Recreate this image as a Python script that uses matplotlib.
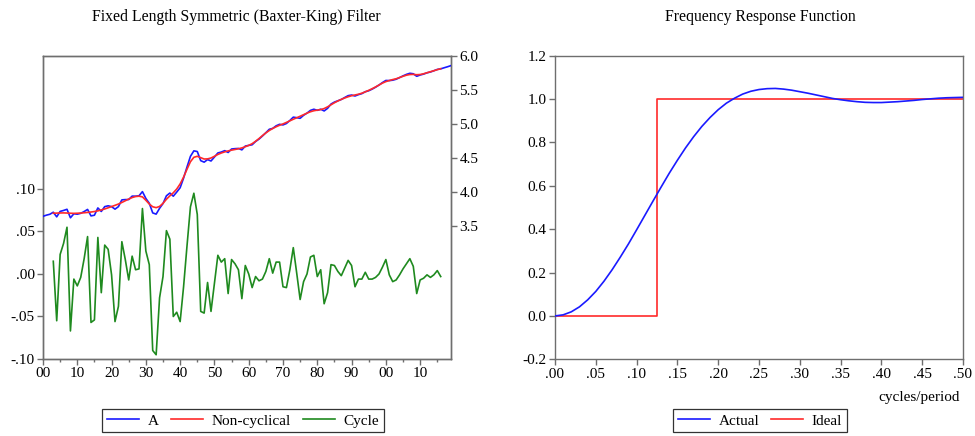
import numpy as np
import matplotlib
matplotlib.use("Agg")
import matplotlib.pyplot as plt
from matplotlib.ticker import FixedLocator, MultipleLocator

plt.rcParams['font.family'] = ['Liberation Serif', 'DejaVu Serif']

# ---------------- data ----------------
years = np.arange(1900, 2020)
cycle_years = np.arange(1903, 2017)

series_a = [
    3.645, 3.662, 3.675, 3.705, 3.637, 3.717, 3.731, 3.748, 3.623, 3.682,
    3.676, 3.689, 3.715, 3.746, 3.651, 3.661, 3.768, 3.716, 3.787, 3.799,
    3.787, 3.750, 3.787, 3.886, 3.890, 3.891, 3.941, 3.940, 3.946, 4.007,
    3.907, 3.836, 3.695, 3.677, 3.762, 3.832, 3.946, 3.986, 3.940, 4.000,
    4.064, 4.205, 4.368, 4.524, 4.605, 4.595, 4.461, 4.439, 4.477, 4.456,
    4.514, 4.574, 4.587, 4.608, 4.581, 4.632, 4.637, 4.640, 4.619, 4.675,
    4.685, 4.694, 4.742, 4.777, 4.822, 4.871, 4.921, 4.934, 4.972, 4.994,
    4.985, 5.006, 5.050, 5.099, 5.091, 5.082, 5.126, 5.158, 5.198, 5.215,
    5.199, 5.215, 5.190, 5.228, 5.291, 5.320, 5.339, 5.358, 5.387, 5.414,
    5.423, 5.409, 5.429, 5.444, 5.472, 5.486, 5.510, 5.538, 5.570, 5.606,
    5.637, 5.635, 5.641, 5.655, 5.679, 5.704, 5.726, 5.742, 5.735, 5.698,
    5.717, 5.730, 5.749, 5.761, 5.779, 5.799, 5.807, 5.823, 5.838, 5.855,
]

non_cyclical = [
    3.690, 3.692, 3.694, 3.695, 3.693, 3.690, 3.688, 3.690, 3.693, 3.697,
    3.702, 3.708, 3.715, 3.725, 3.738, 3.753, 3.770, 3.788, 3.806, 3.825,
    3.848, 3.873, 3.898, 3.920, 3.935, 3.940, 3.930, 3.880, 3.825, 3.785,
    3.772, 3.790, 3.835, 3.895, 3.945, 3.990, 4.045, 4.120, 4.220, 4.335,
    4.445, 4.510, 4.525, 4.505, 4.485, 4.487, 4.500, 4.525, 4.552, 4.573,
    4.590, 4.604, 4.615, 4.625, 4.635, 4.648, 4.665, 4.685, 4.710, 4.745,
    4.785, 4.828, 4.868, 4.903, 4.933, 4.958, 4.980, 5.000, 5.022, 5.045,
    5.068, 5.090, 5.112, 5.135, 5.158, 5.178, 5.193, 5.202, 5.210, 5.225,
    5.250, 5.280, 5.310, 5.336, 5.360, 5.380, 5.398, 5.413, 5.424, 5.435,
    5.450, 5.470, 5.492, 5.516, 5.542, 5.570, 5.598, 5.620, 5.636, 5.650,
    5.662, 5.680, 5.698, 5.714, 5.724, 5.726, 5.721, 5.724, 5.735, 5.750,
    5.765, 5.780, 5.795, 5.810,
]

cycle = [
    0.015, -0.055, 0.023, 0.036, 0.055, -0.067, -0.006, -0.014, -0.004, 0.018,
    0.044, -0.057, -0.054, 0.043, -0.022, 0.034, 0.029, -0.001, -0.056, -0.038,
    0.038, 0.017, -0.007, 0.021, 0.005, 0.006, 0.077, 0.027, 0.011, -0.090,
    -0.095, -0.028, -0.003, 0.051, 0.041, -0.050, -0.045, -0.056, -0.015, 0.033,
    0.079, 0.095, 0.070, -0.044, -0.046, -0.010, -0.044, -0.011, 0.022, 0.014,
    0.018, -0.023, 0.017, 0.012, 0.005, -0.029, 0.010, 0.000, -0.016, -0.003,
    -0.008, -0.006, 0.003, 0.018, 0.001, 0.014, 0.014, -0.015, -0.016, 0.005,
    0.031, 0.001, -0.030, -0.009, 0.000, 0.020, 0.022, -0.003, 0.005, -0.035,
    -0.022, 0.011, 0.010, 0.003, -0.002, 0.007, 0.016, 0.010, -0.015, -0.006,
    -0.006, 0.002, -0.006, -0.006, -0.004, 0.000, 0.008, 0.017, -0.001, -0.009,
    -0.007, -0.001, 0.006, 0.012, 0.018, 0.009, -0.023, -0.007, -0.005, -0.001,
    -0.004, -0.001, 0.004, -0.003,
]

freq = np.linspace(0.0, 0.5, 51)
actual_resp = [
    0.000, 0.005, 0.019, 0.042, 0.074, 0.113, 0.160, 0.213, 0.271, 0.332,
    0.397, 0.463, 0.529, 0.594, 0.658, 0.718, 0.775, 0.827, 0.874, 0.915,
    0.951, 0.981, 1.004, 1.023, 1.036, 1.044, 1.048, 1.049, 1.046, 1.041,
    1.034, 1.027, 1.019, 1.011, 1.003, 0.997, 0.992, 0.988, 0.985, 0.984,
    0.984, 0.986, 0.988, 0.991, 0.994, 0.998, 1.001, 1.004, 1.006, 1.007,
    1.008,
]
ideal_freq = [0.0, 0.125, 0.125, 0.5]
ideal_resp = [0.0, 0.0, 1.0, 1.0]

left_ticks = [-0.10, -0.05, 0.00, 0.05, 0.10]
left_labels = ['-.10', '-.05', '.00', '.05', '.10']
right_ticks = [3.5, 4.0, 4.5, 5.0, 5.5, 6.0]
right_labels = ['3.5', '4.0', '4.5', '5.0', '5.5', '6.0']
year_ticks = list(range(1900, 2020, 10))
year_labels = ['00', '10', '20', '30', '40', '50', '60', '70', '80', '90', '00', '10']
freq_ticks = [0.00, 0.05, 0.10, 0.15, 0.20, 0.25, 0.30, 0.35, 0.40, 0.45, 0.50]
freq_labels = ['.00', '.05', '.10', '.15', '.20', '.25', '.30', '.35', '.40', '.45', '.50']
resp_ticks = [-0.2, 0.0, 0.2, 0.4, 0.6, 0.8, 1.0, 1.2]
resp_labels = ['-0.2', '0.0', '0.2', '0.4', '0.6', '0.8', '1.0', '1.2']

# ---------------- styling ----------------
BLUE = '#1a1aff'
RED = '#ff2a2a'
GREEN = '#1f8a1f'
SPINE = '#6e6e6e'
FS = 11
TFS = 11.3

W, H = 975, 436
fig = plt.figure(figsize=(W / 100, H / 100), dpi=100)

def frac(x0, y_top, x1, y_bot):
    return [x0 / W, 1 - y_bot / H, (x1 - x0) / W, (y_bot - y_top) / H]

def style_spines(ax):
    for s in ax.spines.values():
        s.set_color(SPINE)
        s.set_linewidth(1.0)

LEG_KW = dict(loc='upper left', frameon=True, fancybox=False, fontsize=FS,
              handlelength=2.1, columnspacing=0.8, handletextpad=0.55,
              borderpad=0.32, borderaxespad=0)

# ---------- left panel ----------
ax1 = fig.add_axes(frac(43, 55.7, 451, 359))
ax2 = ax1.twinx()
lc, = ax1.plot(cycle_years, cycle, color=GREEN, lw=1.2, zorder=3)
la, = ax2.plot(years, series_a, color=BLUE, lw=1.2, zorder=3)
ln, = ax2.plot(cycle_years, non_cyclical, color=RED, lw=1.2, zorder=4)

ax1.set_xlim(1900, 2019)
ax1.set_ylim(-0.10, 0.2568)
ax2.set_ylim(6.0 - 303.3 / 68.2, 6.0)

ax1.yaxis.set_major_locator(FixedLocator(left_ticks))
ax1.set_yticklabels(left_labels)
ax2.yaxis.set_major_locator(FixedLocator(right_ticks))
ax2.set_yticklabels(right_labels)
ax1.xaxis.set_major_locator(FixedLocator(year_ticks))
ax1.set_xticklabels(year_labels)
ax1.xaxis.set_minor_locator(MultipleLocator(5))

for ax in (ax1, ax2):
    style_spines(ax)
    ax.tick_params(direction='out', colors=SPINE, labelcolor='black',
                   labelsize=FS, length=4, width=1.0, pad=2)
ax1.tick_params(axis='x', which='minor', direction='out', length=2.5,
                width=1.0, colors=SPINE)
ax1.tick_params(axis='y', right=False)
ax2.tick_params(axis='x', bottom=False, top=False)

fig.text(236 / W, 1 - 17 / H, 'Fixed Length Symmetric (Baxter-King) Filter',
         ha='center', va='center', fontsize=TFS)

leg1 = fig.legend([la, ln, lc], ['A', 'Non-cyclical', 'Cycle'], ncol=3,
                  bbox_to_anchor=(102 / W, 1 - 409 / H), **LEG_KW)
leg1.get_frame().set_edgecolor('black')
leg1.get_frame().set_linewidth(0.9)

# ---------- right panel ----------
ax3 = fig.add_axes(frac(555, 55.7, 963, 359.3))
lact, = ax3.plot(freq, actual_resp, color=BLUE, lw=1.2, zorder=3)
lid, = ax3.plot(ideal_freq, ideal_resp, color=RED, lw=1.2, zorder=2)
ax3.set_xlim(0, 0.5)
ax3.set_ylim(-0.2, 1.2)
ax3.xaxis.set_major_locator(FixedLocator(freq_ticks))
ax3.set_xticklabels(freq_labels)
ax3.yaxis.set_major_locator(FixedLocator(resp_ticks))
ax3.set_yticklabels(resp_labels)
style_spines(ax3)
ax3.tick_params(direction='out', colors=SPINE, labelcolor='black',
                labelsize=FS, length=4, width=1.0, pad=2)

fig.text(760 / W, 1 - 17 / H, 'Frequency Response Function',
         ha='center', va='center', fontsize=TFS)
fig.text(960 / W, 1 - 397 / H, 'cycles/period', ha='right', va='center',
         fontsize=FS)

leg2 = fig.legend([lact, lid], ['Actual', 'Ideal'], ncol=2,
                  bbox_to_anchor=(673 / W, 1 - 409 / H), **LEG_KW)
leg2.get_frame().set_edgecolor('black')
leg2.get_frame().set_linewidth(0.9)

fig.savefig('out.png', dpi=100)
